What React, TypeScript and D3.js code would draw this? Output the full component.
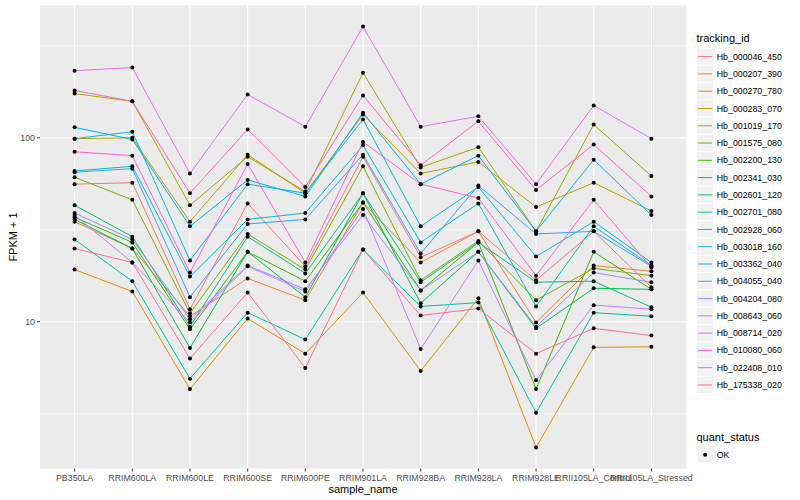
import React, { useEffect, useRef } from 'react';
import * as d3 from 'd3';

// sample order on the x axis
const samples = [
  'PB350LA', 'RRIM600LA', 'RRIM600LE', 'RRIM600SE', 'RRIM600PE', 'RRIM901LA',
  'RRIM928BA', 'RRIM928LA', 'RRIM928LE', 'RRII105LA_Control', 'RRII105LA_Stressed',
];

const trackingIds = [
  'Hb_000046_450', 'Hb_000207_390', 'Hb_000270_780', 'Hb_000283_070', 'Hb_001019_170',
  'Hb_001575_080', 'Hb_002200_130', 'Hb_002341_030', 'Hb_002601_120', 'Hb_002701_080',
  'Hb_002928_060', 'Hb_003018_160', 'Hb_003362_040', 'Hb_004055_040', 'Hb_004204_080',
  'Hb_008643_060', 'Hb_008714_020', 'Hb_010080_060', 'Hb_022408_010', 'Hb_175338_020',
];

// ggplot hue_pal()(20)
const huePalette = [
  '#F8766D', '#EA8331', '#D89000', '#C09B00', '#A3A500', '#7CAE00', '#39B600', '#00BB4E',
  '#00BF7D', '#00C1A3', '#00BFC4', '#00BAE0', '#00B0F6', '#35A2FF', '#9590FF', '#C77CFF',
  '#E76BF3', '#FA62DB', '#FF62BC', '#FF6C91',
];

// FPKM + 1, one row per tracking_id, one value per sample
const fpkm: number[][] = [
  [56, 57, 11.7, 44, 20, 79, 22.4, 31, 16.8, 31, 15.4],
  [35, 25, 10.7, 17.2, 13.1, 44.5, 21, 31, 9.9, 20.2, 18.8],
  [19.2, 14.6, 4.3, 10.4, 6.7, 14.4, 5.4, 13.4, 2.07, 7.25, 7.3],
  [99, 100, 35, 81, 50, 134, 64, 74, 42, 57, 40],
  [174, 158, 43, 79, 51, 226, 69, 89, 31, 118, 62],
  [61, 46, 11.1, 30, 19.2, 70, 16.8, 27.5, 13.1, 19.5, 17.8],
  [37, 27, 9.1, 24, 16.6, 44.5, 14.8, 27, 4.3, 24, 15],
  [36, 25, 7.2, 24, 13.6, 50, 12.6, 24, 9.2, 15.2, 15],
  [43, 29, 9.4, 29, 18.3, 50, 16.4, 27, 16.4, 16.6, 12],
  [28, 16.6, 4.9, 11.2, 8.0, 24.7, 12.1, 12.7, 3.2, 11.2, 10.7],
  [66, 70, 17.6, 36, 39, 91, 27, 44, 12.1, 33, 20.2],
  [99, 108, 21.5, 56, 50, 126, 33, 54, 22.6, 35, 21],
  [114, 98, 33, 59, 48, 137, 56, 80, 31, 76, 38],
  [65, 68, 13.6, 34, 36, 81, 23.5, 55, 30, 31, 20],
  [39, 28, 10.3, 20.2, 15, 38, 14.8, 24, 9.4, 18.5, 16.4],
  [38, 21, 9.9, 20, 14.6, 41, 7.1, 21.5, 4.8, 12.3, 11.7],
  [232, 241, 64, 172, 115, 403, 115, 131, 56, 150, 99],
  [84, 80, 18.5, 72, 21, 95, 56, 47, 17.8, 46, 19.7],
  [181, 158, 50, 111, 54, 170, 71, 123, 52, 92, 48],
  [25, 21, 6.3, 14.4, 5.6, 24.7, 10.8, 11.8, 6.7, 9.2, 8.4],
];

const majorBreaks = [1, 10, 100, 1000];
const minorBreaks = [3.1623, 31.623, 316.23];
const quantStatus = ['OK'];

const FONT = '"Liberation Sans", Arial, Helvetica, sans-serif';

const App: React.FC = () => {
  const svgRef = useRef<SVGSVGElement>(null);

  useEffect(() => {
    if (!svgRef.current) return;
    const svg = d3.select(svgRef.current);
    svg.selectAll('*').remove();

    const panel = { left: 40, right: 686, top: 5.5, bottom: 468.5 };

    const x = d3.scalePoint<string>()
      .domain(samples)
      .range([panel.left, panel.right])
      .padding(0.6);

    // log scale with ggplot's 5% expansion in log space
    const all = fpkm.flat();
    const lmin = Math.log10(d3.min(all) as number);
    const lmax = Math.log10(d3.max(all) as number);
    const pad = (lmax - lmin) * 0.05;
    const y = d3.scaleLog()
      .domain([Math.pow(10, lmin - pad), Math.pow(10, lmax + pad)])
      .range([panel.bottom, panel.top]);
    const [d0, d1] = y.domain();

    svg.append('rect')
      .attr('width', 800).attr('height', 500)
      .attr('fill', '#ffffff');

    // panel background
    svg.append('rect')
      .attr('x', panel.left).attr('y', panel.top)
      .attr('width', panel.right - panel.left)
      .attr('height', panel.bottom - panel.top)
      .attr('fill', '#EBEBEB');

    const grid = svg.append('g');
    grid.selectAll('.minor')
      .data(minorBreaks.filter(v => v > d0 && v < d1))
      .enter().append('line')
      .attr('x1', panel.left).attr('x2', panel.right)
      .attr('y1', d => y(d)).attr('y2', d => y(d))
      .attr('stroke', '#ffffff').attr('stroke-width', 0.55);

    const majors = majorBreaks.filter(v => v > d0 && v < d1);
    grid.selectAll('.major')
      .data(majors)
      .enter().append('line')
      .attr('x1', panel.left).attr('x2', panel.right)
      .attr('y1', d => y(d)).attr('y2', d => y(d))
      .attr('stroke', '#ffffff').attr('stroke-width', 1.1);

    grid.selectAll('.vmajor')
      .data(samples)
      .enter().append('line')
      .attr('x1', d => x(d) as number).attr('x2', d => x(d) as number)
      .attr('y1', panel.top).attr('y2', panel.bottom)
      .attr('stroke', '#ffffff').attr('stroke-width', 1.1);

    // lines, one per tracking_id
    const line = d3.line<number>()
      .x((_, i) => x(samples[i]) as number)
      .y(d => y(d));

    svg.append('g')
      .selectAll('path')
      .data(fpkm)
      .enter().append('path')
      .attr('d', d => line(d))
      .attr('fill', 'none')
      .attr('stroke', (_, i) => huePalette[i])
      .attr('stroke-width', 1);

    // points
    const pts = fpkm.flatMap(row => row.map((v, i) => ({ s: samples[i], v })));
    svg.append('g')
      .selectAll('circle')
      .data(pts)
      .enter().append('circle')
      .attr('cx', d => x(d.s) as number)
      .attr('cy', d => y(d.v))
      .attr('r', 2)
      .attr('fill', '#000000');

    // y axis
    const yAxis = svg.append('g');
    yAxis.selectAll('line')
      .data(majors)
      .enter().append('line')
      .attr('x1', panel.left - 3).attr('x2', panel.left)
      .attr('y1', d => y(d)).attr('y2', d => y(d))
      .attr('stroke', '#333333').attr('stroke-width', 1);
    yAxis.selectAll('text')
      .data(majors)
      .enter().append('text')
      .attr('x', panel.left - 5)
      .attr('y', d => y(d))
      .attr('dy', '0.35em')
      .attr('text-anchor', 'end')
      .style('font-family', FONT)
      .style('font-size', '8.8px')
      .style('fill', '#4D4D4D')
      .text(d => String(d));

    // x axis
    const xAxis = svg.append('g');
    xAxis.selectAll('line')
      .data(samples)
      .enter().append('line')
      .attr('x1', d => x(d) as number).attr('x2', d => x(d) as number)
      .attr('y1', panel.bottom).attr('y2', panel.bottom + 3)
      .attr('stroke', '#333333').attr('stroke-width', 1);
    xAxis.selectAll('text')
      .data(samples)
      .enter().append('text')
      .attr('x', d => x(d) as number)
      .attr('y', panel.bottom + 12.5)
      .attr('text-anchor', 'middle')
      .style('font-family', FONT)
      .style('font-size', '8.8px')
      .style('fill', '#4D4D4D')
      .text(d => d);

    svg.append('text')
      .attr('x', (panel.left + panel.right) / 2)
      .attr('y', 493)
      .attr('text-anchor', 'middle')
      .style('font-family', FONT)
      .style('font-size', '11px')
      .style('fill', '#000')
      .text('sample_name');

    svg.append('text')
      .attr('transform', `translate(17, ${(panel.top + panel.bottom) / 2}) rotate(-90)`)
      .attr('text-anchor', 'middle')
      .style('font-family', FONT)
      .style('font-size', '11px')
      .style('fill', '#000')
      .text('FPKM + 1');

    // legend: tracking_id
    const keySize = 17.28;
    const legend = svg.append('g').attr('transform', 'translate(696.5, 0)');
    legend.append('text')
      .attr('x', 0).attr('y', 42)
      .style('font-family', FONT)
      .style('font-size', '11px')
      .text('tracking_id');

    const items = legend.selectAll('.item')
      .data(trackingIds)
      .enter().append('g')
      .attr('transform', (_, i) => `translate(0, ${48 + i * keySize})`);
    items.append('rect')
      .attr('width', keySize).attr('height', keySize)
      .attr('fill', '#F2F2F2').attr('stroke', '#ffffff').attr('stroke-width', 1);
    items.append('line')
      .attr('x1', 1.7).attr('x2', keySize - 1.7)
      .attr('y1', keySize / 2).attr('y2', keySize / 2)
      .attr('stroke', (_, i) => huePalette[i]).attr('stroke-width', 1);
    items.append('text')
      .attr('x', keySize + 3)
      .attr('y', keySize / 2)
      .attr('dy', '0.35em')
      .style('font-family', FONT)
      .style('font-size', '8.8px')
      .style('fill', '#000')
      .text(d => d);

    // legend: quant_status
    const legend2 = svg.append('g').attr('transform', 'translate(696.5, 0)');
    legend2.append('text')
      .attr('x', 0).attr('y', 441)
      .style('font-family', FONT)
      .style('font-size', '11px')
      .text('quant_status');
    const items2 = legend2.selectAll('.item2')
      .data(quantStatus)
      .enter().append('g')
      .attr('transform', (_, i) => `translate(0, ${446 + i * keySize})`);
    items2.append('rect')
      .attr('width', keySize).attr('height', keySize)
      .attr('fill', '#F2F2F2').attr('stroke', '#ffffff').attr('stroke-width', 1);
    items2.append('circle')
      .attr('cx', keySize / 2).attr('cy', keySize / 2).attr('r', 2)
      .attr('fill', '#000');
    items2.append('text')
      .attr('x', keySize + 3)
      .attr('y', keySize / 2)
      .attr('dy', '0.35em')
      .style('font-family', FONT)
      .style('font-size', '8.8px')
      .text(d => d);
  }, []);

  return (
    <svg
      ref={svgRef}
      width={800}
      height={500}
      style={{ position: 'absolute', left: 0, top: 0 }}
    />
  );
};

export default App;
